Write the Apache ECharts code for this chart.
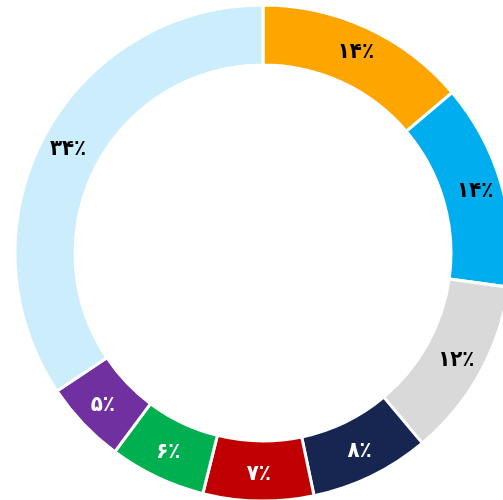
<!DOCTYPE html>
<html>
<head>
<meta charset="utf-8">
<script src="https://cdn.jsdelivr.net/npm/echarts@6/dist/echarts.min.js"></script>
<style>html,body{margin:0;padding:0;background:#fff;}#c{width:503px;height:500px;}</style>
</head>
<body>
<div id="c"></div>
<script>
const categories = ['a','b','c','d','e','f','g','h'];
const values = [13.8, 13.4, 11.7, 7.8, 7.2, 6.3, 5.4, 34.4];
const labels = ['۱۴٪','۱۴٪','۱۲٪','۸٪','۷٪','۶٪','۵٪','۳۴٪'];
const colors = ['#FFA500','#00AEEF','#D9D9D9','#172651','#C00000','#00B050','#7030A0','#CCEEFC'];
const labelColors = ['#000','#000','#000','#fff','#fff','#fff','#fff','#000'];

const chart = echarts.init(document.getElementById('c'));
chart.setOption({
  animation: false,
  series: [{
    type: 'pie',
    center: [263, 253],
    radius: [188, 248],
    startAngle: 90,
    clockwise: true,
    avoidLabelOverlap: false,
    itemStyle: { borderColor: '#fff', borderWidth: 3 },
    label: { show: true, position: 'inside', fontFamily: 'DejaVu Sans Condensed, DejaVu Sans', fontWeight: 'bold', fontSize: 22 },
    labelLine: { show: false },
    data: categories.map((c, i) => ({
      name: c,
      value: values[i],
      itemStyle: { color: colors[i] },
      label: { formatter: labels[i], color: labelColors[i] }
    }))
  }]
});
</script>
</body>
</html>
